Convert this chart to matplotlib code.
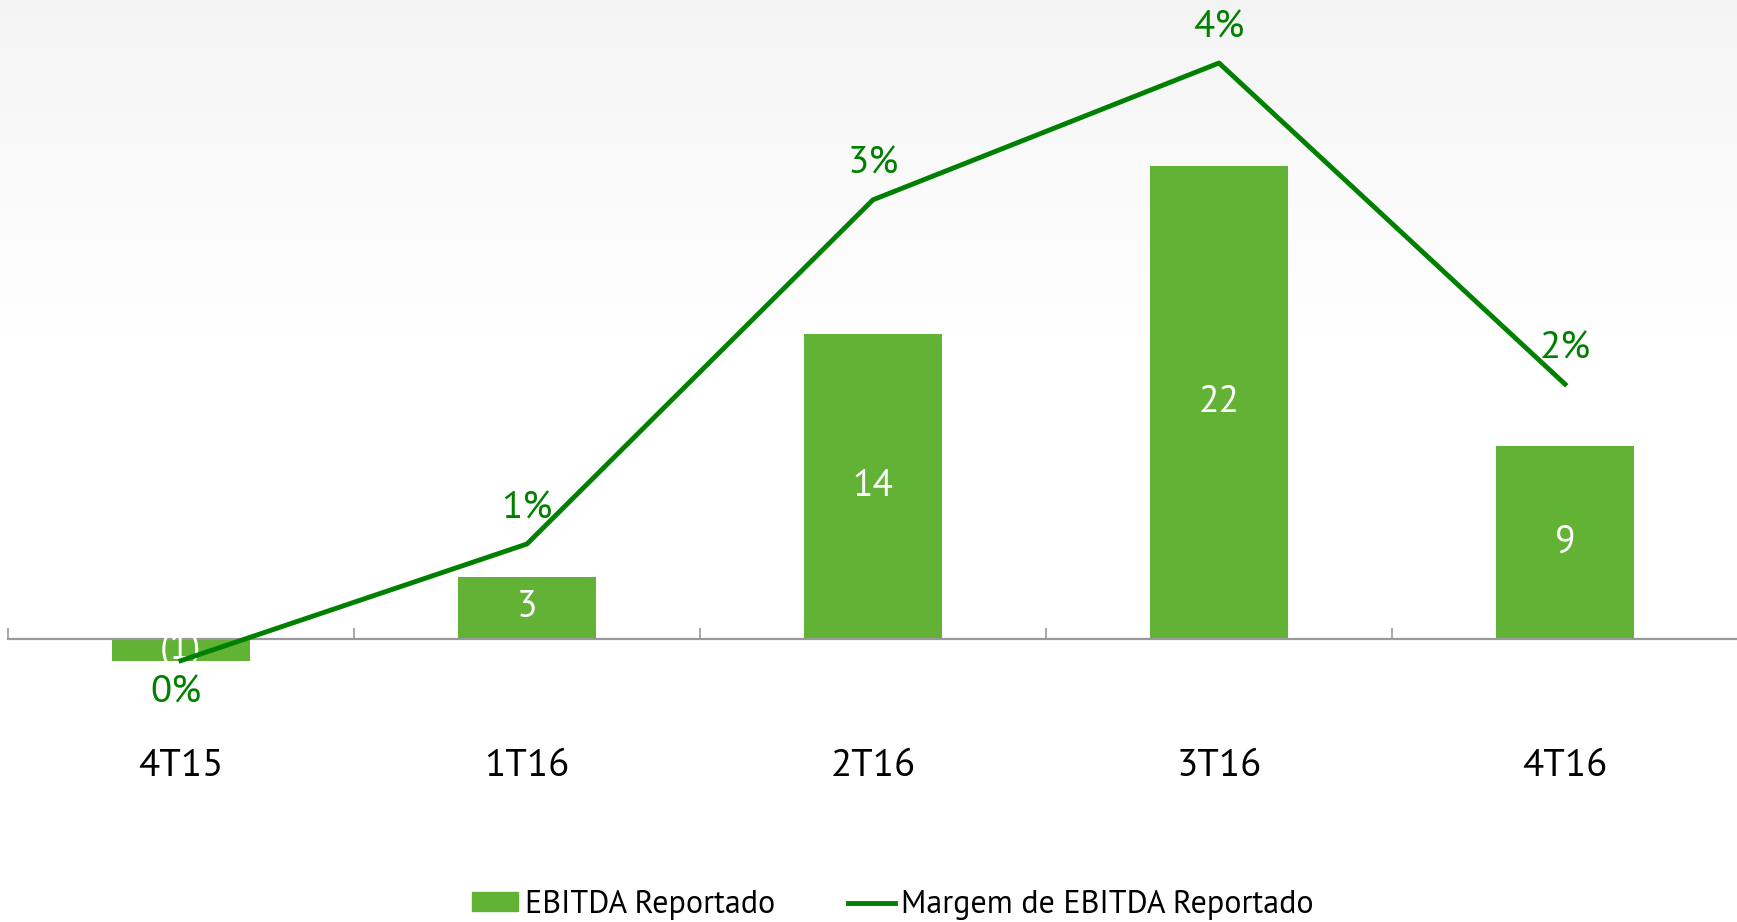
import numpy as np
import matplotlib
matplotlib.use("Agg")
import matplotlib.pyplot as plt
from matplotlib.ticker import FixedLocator

# chart data
quarters = ["4T15", "1T16", "2T16", "3T16", "4T16"]
ebitda = [-1.0, 2.9, 14.2, 22.0, 9.0]
ebitda_labels = ["(1)", "3", "14", "22", "9"]
margin = [-0.15, 0.66, 3.05, 4.0, 1.77]
margin_labels = ["0%", "1%", "3%", "4%", "2%"]

bar_color = "#62b236"
line_color = "#008000"

plt.rcParams["font.family"] = ["PT Sans", "Liberation Sans", "DejaVu Sans"]

W, H = 1737, 922
fig = plt.figure(figsize=(W / 100, H / 100), dpi=100)

# soft grey wash at the top of the slide
bg = fig.add_axes([0, 0, 1, 1], zorder=-10)
grad = np.linspace(0, 1, 300).reshape(-1, 1)
shade = np.clip(grad / 0.4, 0, 1)
bg.imshow(0.955 + 0.045 * shade, cmap="gray", vmin=0, vmax=1, aspect="auto",
          extent=[0, 1, 0, 1], origin="upper")
bg.set_axis_off()

base_px = 639
bar_scale = 21.5     # px per unit
line_scale = 144.0   # px per percent point

ax = fig.add_axes([8 / W, 0, 1730 / W, 1])
ax.patch.set_alpha(0)
x = np.arange(len(quarters))
ax.bar(x, ebitda, width=0.4, color=bar_color, zorder=2)
ax.set_xlim(-0.5, len(quarters) - 0.5)
ax.set_ylim(-(H - base_px) / bar_scale, base_px / bar_scale)

for s in ["top", "right", "left"]:
    ax.spines[s].set_visible(False)
ax.spines["bottom"].set_position(("data", 0))
ax.spines["bottom"].set_color("#999999")
ax.spines["bottom"].set_linewidth(1.6)
ax.set_yticks([])
ax.set_xticks(x)
ax.set_xticklabels(quarters, fontsize=28)
ax.tick_params(axis="x", which="major", length=0, pad=79)
ax.xaxis.set_minor_locator(FixedLocator(np.arange(-0.5, len(quarters), 1.0)))
ax.tick_params(axis="x", which="minor", direction="in", length=8, width=1.2, color="#999999")

for xi, v, lab in zip(x, ebitda, ebitda_labels):
    ax.text(xi, v / 2, lab, ha="center", va="center", color="white", fontsize=27, zorder=3)

ax2 = ax.twinx()
ax2.set_ylim(-(H - base_px) / line_scale, base_px / line_scale)
ax2.plot(x, margin, color=line_color, linewidth=3.5, zorder=4)
ax2.set_axis_off()
for xi, v, lab in zip(x, margin, margin_labels):
    off = -23 if v < 0 else 25.5
    ax2.annotate(lab, (xi, v), xytext=(-4 if v < 0 else 0, off), textcoords="offset points",
                 ha="center", va="center", color=line_color, fontsize=28)

handles = [
    plt.Rectangle((0, 0), 1, 1, color=bar_color),
    plt.Line2D([0], [0], color=line_color, linewidth=3.5),
]
fig.legend(handles, ["EBITDA Reportado", "Margem de EBITDA Reportado"],
           loc="center", bbox_to_anchor=(0.514, 1 - 905 / H), ncol=2, frameon=False,
           fontsize=23, handlelength=1.45, handleheight=0.55, handletextpad=0.2,
           columnspacing=2.3)

fig.savefig("out.png", dpi=100)
